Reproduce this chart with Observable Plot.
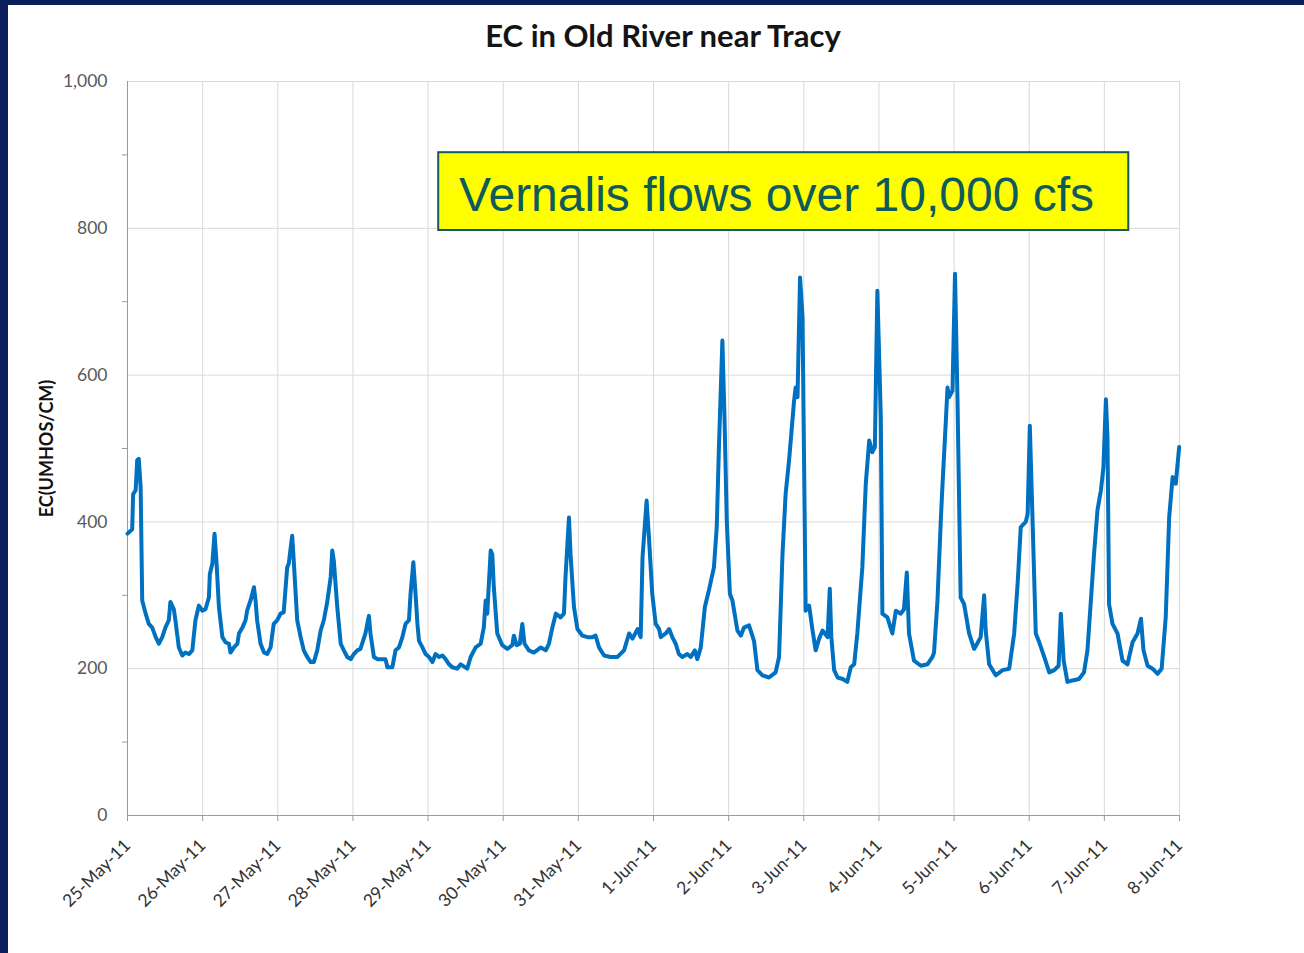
<!DOCTYPE html>
<html>
<head>
<meta charset="utf-8">
<script src="https://cdn.jsdelivr.net/npm/d3@7"></script>
<script src="https://cdn.jsdelivr.net/npm/@observablehq/plot@0.6"></script>
<style>
  html, body { margin: 0; padding: 0; }
  body { width: 1304px; height: 953px; background: #0b1f5c; overflow: hidden; position: relative; }
  #panel { position: absolute; left: 8px; top: 5px; width: 1296px; height: 948px; background: #ffffff; }
  #title { position: absolute; left: 0; width: 1310px; top: 12px; line-height: 36px; text-align: center;
           font-family: Lato, "Open Sans", sans-serif; font-weight: bold; font-size: 31px; color: #141414; }
  #chart { position: absolute; left: 0; top: 55px; }
</style>
</head>
<body>
<div id="panel">
  <div id="title">EC in Old River near Tracy</div>
  <div id="chart"></div>
</div>
<script>
// Hours after 25-May-2011 00:00
const hours = [
  0,1.5,1.8,2.6,3.1,3.6,4.2,4.7,5.8,6.8,
  7.9,9.0,10.0,11.1,12.1,13.2,13.7,14.8,15.3,16.4,
  17.5,18.5,19.6,20.7,21.7,22.8,23.9,24.9,26.0,26.3,
  27.1,27.8,28.4,29.2,30.3,31.3,32.4,32.9,34.0,35.1,
  35.6,36.7,37.7,38.2,39.3,40.4,40.9,41.4,42.5,43.6,
  44.6,45.7,46.7,47.8,48.9,49.9,51.0,51.5,52.6,53.1,
  54.2,55.3,56.3,57.4,58.5,59.5,60.6,61.7,62.7,63.8,
  64.9,65.4,65.9,67.0,68.1,69.1,70.2,71.3,72.3,73.4,
  74.4,76.0,77.1,77.6,78.7,79.8,80.8,82.4,83.0,84.6,
  85.6,86.7,87.8,88.8,89.9,90.4,91.3,92.0,92.6,93.1,
  94.2,95.2,96.3,97.4,98.4,99.5,100.6,101.6,102.7,103.7,
  105.3,106.4,108.5,109.6,111.2,112.8,113.8,114.4,114.9,116.0,
  116.5,117.0,118.1,119.7,121.3,122.9,123.4,124.3,125.3,126.1,
  126.8,128.2,129.8,132.0,133.6,134.6,135.7,136.8,138.3,139.4,
  139.9,141.0,141.5,142.6,143.7,145.3,146.9,148.5,149.5,150.6,
  152.2,154.3,156.5,158.6,160.2,161.3,162.9,163.9,164.5,165.8,
  166.6,167.6,168.7,169.8,170.3,171.9,173.0,174.0,175.1,176.1,
  177.2,178.8,179.9,181.2,182.0,183.1,184.4,185.7,187.3,188.2,
  188.9,190.0,190.7,191.4,192.4,193.2,194.8,195.9,196.9,198.5,
  200.1,201.2,202.8,204.9,207.0,208.1,209.2,210.2,211.3,212.9,
  213.4,214.0,214.8,215.6,216.6,217.7,218.8,219.8,220.9,222.0,
  223.6,224.3,224.8,225.7,226.8,228.4,229.9,231.0,232.1,233.1,
  234.7,235.8,236.9,237.9,238.7,239.5,240.6,241.1,242.7,244.3,
  245.4,247.0,248.0,248.9,249.6,251.2,253.4,255.5,257.1,257.6,
  258.7,259.8,260.3,261.4,261.9,262.4,263.5,264.3,265.1,266.1,
  267.2,268.8,270.4,271.5,272.5,273.6,274.1,275.2,277.3,279.5,
  281.6,283.2,284.3,285.3,286.9,287.5,288.2,289.1,290.1,291.2,
  292.8,294.4,296.0,297.4,298.1,299.0,300.2,301.8,303.9,305.5,
  306.6,307.7,308.7,309.8,310.9,311.7,312.5,313.0,313.5,314.6,
  316.2,317.8,319.4,321.0,322.6,323.7,324.5,325.8,327.4,329.0,
  330.3,331.6,332.7,333.8,334.8,335.9
];
// EC (umhos/cm)
const ec = [
  384,390,438,443,484,486,447,293,275,261,
  256,243,234,243,256,266,291,281,266,229,
  218,222,220,225,266,286,279,281,297,329,
  343,384,347,284,243,236,234,222,229,234,
  248,256,266,279,293,311,293,266,234,222,
  220,229,261,266,275,277,338,343,381,347,
  266,243,225,216,209,209,225,252,266,291,
  325,361,347,284,234,225,216,213,220,225,
  227,248,272,248,216,213,213,213,202,202,
  225,229,243,261,266,302,345,302,261,238,
  229,220,216,209,220,216,218,213,206,202,
  200,206,200,216,229,234,256,293,275,361,
  356,311,248,232,227,232,245,232,234,261,
  234,225,222,229,225,234,256,275,270,275,
  325,406,356,284,254,245,243,243,245,229,
  218,216,216,225,248,241,254,243,352,429,
  375,302,261,254,243,248,254,243,234,220,
  216,220,216,225,213,229,284,307,338,393,
  502,647,538,402,302,293,252,245,256,259,
  238,198,191,188,195,216,356,438,484,565,
  583,570,733,679,279,286,252,225,241,252,
  243,309,243,198,188,186,182,202,206,248,
  338,452,511,495,502,715,542,275,270,248,
  279,275,281,331,248,211,204,206,216,222,
  293,406,450,540,583,570,579,738,565,297,
  288,248,227,235,243,300,252,206,191,198,
  200,248,316,393,400,411,531,397,248,236,
  216,195,198,204,275,211,182,184,186,195,
  225,293,356,416,443,474,567,515,288,261,
  248,211,206,236,248,268,225,204,200,193,
  200,270,406,461,452,502
];
const tickDates = [
  "2011-05-25","2011-05-26","2011-05-27","2011-05-28","2011-05-29",
  "2011-05-30","2011-05-31","2011-06-01","2011-06-02","2011-06-03",
  "2011-06-04","2011-06-05","2011-06-06","2011-06-07","2011-06-08"
];
const yTicks = [0, 200, 400, 600, 800, 1000];
const yMinorTicks = [100, 300, 500, 700, 900];
const yLabel = "EC(UMHOS/CM)";
const noteText = ["Vernalis flows over 10,000 cfs"];
const noteFrom = ["2011-05-29T03:24:00Z"];
const noteTo = ["2011-06-07T07:48:00Z"];
const noteTextAt = ["2011-05-29T09:54:00Z"];
const noteLow = [797];
const noteHigh = [903];
const noteMid = [845];

const start = Date.UTC(2011, 4, 25);
const data = hours.map((h, i) => ({date: new Date(start + h * 3600e3), ec: ec[i]}));
const days = tickDates.map(d => new Date(d + "T00:00:00Z"));
const note = noteText.map((t, i) => ({
  text: t, x1: new Date(noteFrom[i]), x2: new Date(noteTo[i]), xt: new Date(noteTextAt[i]),
  y1: noteLow[i], y2: noteHigh[i], yt: noteMid[i]
}));
const fmt = d3.utcFormat("%-d-%b-%y");
const teal = "#0f5a5c";

const chart = Plot.plot({
  width: 1296,
  height: 893,
  marginTop: 21,
  marginBottom: 138,
  marginLeft: 119,
  marginRight: 125,
  style: {fontFamily: "Lato, sans-serif", background: "#ffffff", overflow: "visible"},
  x: {type: "utc", domain: [days[0], days[days.length - 1]]},
  y: {domain: [0, 1000]},
  marks: [
    Plot.gridX({ticks: days, stroke: "#d9d9d9", strokeOpacity: 1}),
    Plot.gridY({ticks: yTicks.filter(v => v > 0), stroke: "#d9d9d9", strokeOpacity: 1}),
    Plot.ruleX([days[0]], {stroke: "#9a9a9a"}),
    Plot.ruleY([0], {stroke: "#9a9a9a"}),
    Plot.axisX({ticks: days, tickFormat: fmt, tickRotate: -45, tickSize: 6, tickPadding: 21,
                fontSize: 17.5, stroke: "#9a9a9a", fill: "#333333", label: null}),
    Plot.axisY({ticks: yTicks, tickFormat: d3.format(","), tickSize: 0, tickPadding: 20,
                fontSize: 17.5, fill: "#595959", label: null}),
    Plot.axisY({ticks: yMinorTicks, tickFormat: () => "", tickSize: 5, stroke: "#9a9a9a", label: null}),
    Plot.rect(note, {x1: "x1", x2: "x2", y1: "y1", y2: "y2", fill: "#ffff00", stroke: teal, strokeWidth: 2}),
    Plot.text(note, {x: "xt", y: "yt", text: "text", textAnchor: "start", fontSize: 48,
                     fontFamily: "Liberation Sans, Arial, sans-serif", fill: teal}),
    Plot.lineY(data, {x: "date", y: "ec", stroke: "#0070c0", strokeWidth: 4,
                      strokeLinejoin: "round", strokeLinecap: "round"}),
    Plot.text([yLabel], {frameAnchor: "left", textAnchor: "middle", rotate: -90, dx: -80,
                         fontWeight: "bold", fontSize: 18, fill: "#111111"})
  ]
});
document.getElementById("chart").appendChild(chart);
</script>
</body>
</html>
